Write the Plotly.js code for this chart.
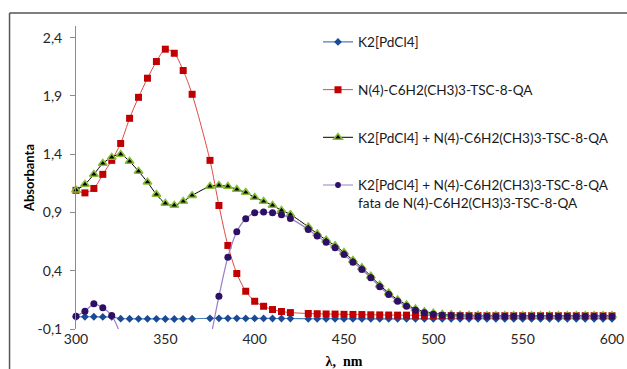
<!DOCTYPE html>
<html>
<head>
<meta charset="utf-8">
<script src="https://cdn.plot.ly/plotly-3.0.1.min.js"></script>
<style>
  html, body { margin: 0; padding: 0; background: #ffffff; }
  #chart { width: 627px; height: 369px; }
</style>
</head>
<body>
<div id="chart"></div>
<script>
// wavelength (nm); 370 and 425 are not in the measured set
var wavelength = [300,305,310,315,320,325,330,335,340,345,350,355,360,365,
                  375,380,385,390,395,400,405,410,415,420,
                  430,435,440,445,450,455,460,465,470,475,480,485,490,495,500,
                  505,510,515,520,525,530,535,540,545,550,555,560,565,570,575,580,585,590,595,600];

var seriesNames = [
  'K2[PdCl4]',
  'N(4)-C6H2(CH3)3-TSC-8-QA',
  'K2[PdCl4] + N(4)-C6H2(CH3)3-TSC-8-QA',
  'K2[PdCl4] + N(4)-C6H2(CH3)3-TSC-8-QA<br>fata de N(4)-C6H2(CH3)3-TSC-8-QA'
];

var k2pdcl4 = [0.004,0.005,0.005,0.004,0.004,-0.011,-0.012,-0.013,-0.013,-0.013,-0.014,-0.014,-0.013,-0.012,
               -0.008,-0.008,-0.008,-0.008,-0.009,-0.009,-0.009,-0.010,-0.010,-0.010,
               -0.012,-0.012,-0.012,-0.012,-0.013,-0.013,-0.013,-0.013,-0.013,-0.013,-0.013,-0.013,-0.013,-0.013,-0.013,
               -0.012,-0.012,-0.012,-0.012,-0.012,-0.012,-0.012,-0.012,-0.012,-0.012,-0.012,-0.012,-0.012,-0.012,-0.012,-0.012,-0.012,-0.012,-0.012,-0.012];

var ligand = [1.090,1.068,1.106,1.227,1.347,1.492,1.708,1.888,2.052,2.195,2.301,2.266,2.118,1.914,
              1.347,0.960,0.617,0.376,0.224,0.138,0.095,0.067,0.050,0.041,
              0.033,0.031,0.029,0.028,0.026,0.025,0.024,0.022,0.021,0.020,0.019,0.019,0.018,0.017,0.017,
              0.016,0.016,0.015,0.015,0.015,0.014,0.014,0.014,0.014,0.014,0.014,0.014,0.014,0.014,0.014,0.014,0.014,0.014,0.014,0.014];

var mixture = [1.092,1.141,1.227,1.321,1.373,1.399,1.338,1.253,1.160,1.055,0.978,0.961,0.995,1.046,
               1.124,1.133,1.124,1.098,1.072,1.029,0.995,0.961,0.918,0.883,
               0.776,0.717,0.664,0.615,0.557,0.490,0.427,0.354,0.277,0.210,0.151,0.108,0.073,0.050,0.037,
               0.027,0.023,0.020,0.018,0.017,0.016,0.016,0.015,0.015,0.015,0.015,0.015,0.015,0.015,0.015,0.015,0.015,0.015,0.015,0.015];

var difference = [0.009,0.052,0.116,0.082,0.015,-0.150,-0.400,-0.700,-0.950,-1.150,-1.300,-1.280,-1.100,-0.850,
                  -0.200,0.181,0.516,0.735,0.846,0.898,0.903,0.898,0.881,0.849,
                  0.754,0.697,0.645,0.597,0.540,0.473,0.411,0.339,0.262,0.196,0.138,0.095,0.061,0.039,0.027,
                  0.018,0.015,0.013,0.011,0.010,0.010,0.010,0.010,0.010,0.010,0.010,0.010,0.010,0.010,0.010,0.010,0.010,0.010,0.010,0.010];

var yTickVals = [-0.1, 0.4, 0.9, 1.4, 1.9, 2.4];
var yTickText = ['-0,1', '0,4', '0,9', '1,4', '1,9', '2,4'];
var xTickVals = [300, 350, 400, 450, 500, 550, 600];
var xTickText = ['300', '350', '400', '450', '500', '550', '600'];

var yMin = -0.1, yMax = 2.5;
var xMin = 300, xMax = 600;

// points below the axis minimum are not drawn as markers (only their line, clipped)
function markerSizes(vals, size) {
  return vals.map(function (v) { return v < yMin ? 0 : size; });
}

var traces = [
  {
    x: wavelength, y: k2pdcl4, name: seriesNames[0], type: 'scatter', mode: 'lines+markers',
    legendgroup: 'a', cliponaxis: false,
    line: { color: '#4a7ebb', width: 1.2, shape: 'spline', smoothing: 0.8 },
    marker: { symbol: 'diamond', size: 6, color: '#1a4a96', line: { width: 0 } }
  },
  {
    x: wavelength, y: ligand, name: seriesNames[1], type: 'scatter', mode: 'lines+markers',
    legendgroup: 'b', cliponaxis: false,
    line: { color: '#dd4a45', width: 1, shape: 'spline', smoothing: 0.8 },
    marker: { symbol: 'square', size: 7, color: '#c00000', line: { width: 0 } }
  },
  {
    x: wavelength, y: mixture, name: seriesNames[2], type: 'scatter', mode: 'lines+markers',
    legendgroup: 'c', cliponaxis: false,
    line: { color: '#000000', width: 1, shape: 'spline', smoothing: 0.8 },
    marker: { symbol: 'triangle-up', size: 7.5, color: '#000000', line: { color: '#86bd34', width: 1.6 } }
  },
  {
    x: wavelength, y: difference, name: seriesNames[3], type: 'scatter', mode: 'lines+markers',
    legendgroup: 'd', cliponaxis: false,
    line: { color: '#9a80c8', width: 1.2, shape: 'spline', smoothing: 0.8 },
    marker: { symbol: 'circle', size: markerSizes(difference, 7), color: '#2e0f66', opacity: 1, line: { width: 0 } }
  }
];

var layout = {
  width: 627, height: 369,
  margin: { l: 76, r: 15, t: 26, b: 40 },
  paper_bgcolor: '#ffffff', plot_bgcolor: '#ffffff',
  showlegend: true,
  font: { family: 'Lato, "Open Sans", sans-serif', size: 13, color: '#262626' },
  xaxis: {
    range: [xMin, xMax], tickvals: xTickVals, ticktext: xTickText,
    showline: false, showgrid: false, zeroline: false, ticks: '',
    tickfont: { family: 'Lato', size: 14, color: '#262626' },
    title: { text: 'λ,  nm', font: { family: '"Liberation Serif", serif', size: 14, weight: 'bold', color: '#000000' }, standoff: 11 }
  },
  xaxis2: {
    overlaying: 'x', anchor: 'free', position: (0 - yMin) / (yMax - yMin), side: 'bottom',
    range: [xMin, xMax], tickvals: xTickVals, showticklabels: false,
    showline: true, linecolor: '#8c8c8c', linewidth: 1.5,
    ticks: 'outside', ticklen: 4, tickcolor: '#8c8c8c', tickwidth: 1,
    showgrid: false, zeroline: false, layer: 'below traces'
  },
  yaxis: {
    range: [yMin, yMax], tickvals: yTickVals, ticktext: yTickText,
    showline: true, linecolor: '#8c8c8c', linewidth: 1,
    ticks: 'outside', ticklen: 5, tickcolor: '#8c8c8c',
    ticklabelstandoff: 5,
    showgrid: false, zeroline: false,
    tickfont: { family: 'Lato', size: 14, color: '#262626' },
    title: { text: 'Absorbanta', font: { family: 'Lato', size: 13, weight: 'bold', color: '#000000' }, standoff: 0 }
  },
  legend: {
    x: 0.4515, y: 0.998, xanchor: 'left', yanchor: 'top',
    bgcolor: 'rgba(0,0,0,0)', borderwidth: 0,
    traceorder: 'grouped', tracegroupgap: 27, valign: 'top',
    font: { family: 'Lato', size: 13.6, color: '#1a1a1a' }
  },
  shapes: [
    { type: 'line', xref: 'paper', yref: 'paper', x0: -0.124, x1: 1.2, y0: 1.0429, y1: 1.0429,
      line: { color: '#555555', width: 1.5 } },
    { type: 'line', xref: 'paper', yref: 'paper', x0: -0.124, x1: -0.124, y0: 1.0429, y1: -0.3,
      line: { color: '#555555', width: 1.5 } }
  ]
};

Plotly.newPlot('chart', traces, layout, { displayModeBar: false, staticPlot: true });
</script>
</body>
</html>
